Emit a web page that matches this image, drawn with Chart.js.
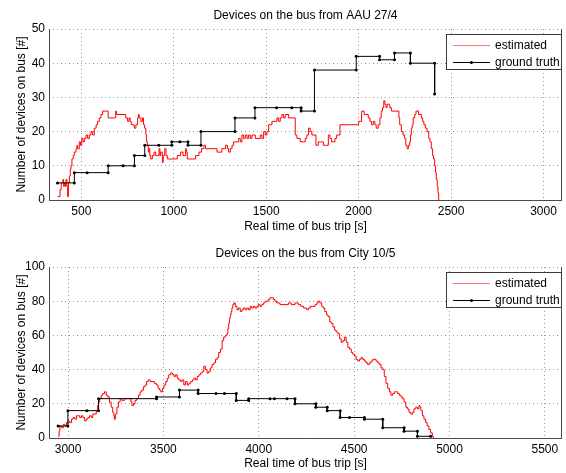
<!DOCTYPE html>
<html>
<head>
<meta charset="utf-8">
<script src="https://cdn.jsdelivr.net/npm/chart.js@4.4.1/dist/chart.umd.min.js"></script>
<style>
  body { margin: 0; background: #fff; }
  .plot { position: absolute; left: 0; }
</style>
</head>
<body>
<canvas id="topChart" class="plot" width="566" height="236" style="top:0"></canvas>
<canvas id="bottomChart" class="plot" width="566" height="237" style="top:236px"></canvas>
<script>
// Bus from AAU 27/4 - estimated count (time [s], devices)
const aauEstTime = [372,385,391,400,404,408,413,417,422,426,430,435,440,444,449,456,462,471,476,480,489,495,502,509,516,525,534,543,552,561,570,580,588,597,606,615,645,686,690,740,750,758,764,770,786,795,804,809,813,822,830,836,842,849,853,857,862,866,870,875,884,893,902,911,920,925,929,938,943,951,958,965,1019,1037,1050,1064,1068,1073,1118,1136,1150,1163,1172,1234,1260,1280,1290,1297,1306,1315,1324,1351,1360,1369,1378,1387,1396,1405,1414,1423,1441,1468,1477,1486,1495,1504,1513,1531,1558,1567,1576,1585,1594,1603,1621,1657,1666,1684,1702,1711,1720,1729,1738,1747,1769,1782,1793,1809,1819,1836,1845,1854,1872,1881,1899,2000,2016,2030,2052,2061,2070,2079,2088,2095,2106,2115,2122,2129,2136,2142,2148,2154,2160,2168,2177,2213,2218,2222,2231,2240,2249,2255,2262,2269,2276,2280,2285,2290,2295,2303,2310,2324,2339,2346,2353,2361,2370,2379,2386,2393,2400,2405,2411,2416,2420,2425,2429,2433];
const aauEstCount = [1,3,5,6,4,5,4,6,4,1,5,7,9,10,12,13,14,15,16,15,17,16,18,17,18,19,18,19,20,19,21,22,23,24,25,26,24,26,25,24,23,24,23,22,21,22,24,25,24,23,24,22,21,19,17,16,14,15,13,12,13,14,13,13,15,13,14,11,13,15,13,12,13,14,13,15,14,12,13,14,15,16,15,14,15,16,15,14,15,16,17,18,17,19,18,19,18,19,18,19,18,19,18,20,19,20,22,23,24,23,24,25,24,25,24,19,18,17,17,18,19,21,20,19,16,17,17,16,16,19,18,17,18,19,22,23,26,25,24,23,22,23,22,21,22,24,26,27,29,28,27,28,28,27,26,26,24,22,20,19,18,16,15,16,17,19,21,22,24,25,26,25,24,23,22,21,20,18,17,15,13,12,10,8,6,4,2,0];
// Bus from AAU 27/4 - ground truth
const aauTruthTime = [371,462,462,531,645,645,726,787,787,843,843,919,989,989,1033,1077,1077,1147,1147,1331,1331,1439,1439,1556,1638,1689,1689,1761,1761,1987,1987,2113,2113,2194,2194,2280,2280,2411,2411];
const aauTruthCount = [5,5,8,8,8,10,10,10,13,13,16,16,16,17,17,17,16,16,20,20,24,24,27,27,27,27,26,26,38,38,42,42,41,41,43,43,40,40,31];

// Bus from City 10/5 - estimated count
const cityEstTime = [2948,2953,2957,2965,2975,2983,2992,3000,3008,3018,3026,3035,3044,3061,3070,3078,3087,3095,3104,3113,3122,3130,3148,3155,3160,3166,3174,3182,3191,3200,3208,3217,3226,3234,3240,3243,3248,3256,3264,3273,3282,3295,3330,3335,3343,3351,3360,3369,3378,3386,3395,3404,3412,3420,3430,3452,3463,3472,3480,3486,3495,3503,3512,3520,3528,3538,3548,3556,3564,3572,3580,3590,3598,3607,3616,3625,3634,3643,3652,3660,3668,3677,3686,3695,3704,3712,3720,3729,3738,3746,3755,3764,3773,3782,3790,3799,3808,3816,3825,3833,3838,3842,3846,3851,3855,3859,3864,3870,3877,3886,3894,3903,3912,3920,3929,3938,3946,3955,3963,3972,3981,3990,3998,4007,4016,4024,4033,4050,4059,4077,4085,4094,4111,4148,4155,4170,4190,4207,4220,4235,4250,4260,4270,4295,4305,4311,4320,4330,4337,4346,4355,4363,4372,4380,4389,4398,4406,4415,4424,4432,4441,4450,4458,4467,4476,4485,4493,4502,4510,4519,4528,4536,4545,4554,4562,4571,4580,4589,4598,4615,4624,4632,4641,4650,4658,4667,4676,4685,4693,4702,4711,4728,4737,4746,4754,4762,4771,4780,4788,4797,4806,4814,4823,4832,4840,4845,4850,4858,4866,4875,4883,4892,4901,4910,4915];
const cityEstCount = [1,4,7,6,8,7,9,10,9,11,12,11,13,12,13,12,10,11,12,13,12,14,16,19,21,23,25,26,27,25,24,21,18,15,13,11,14,18,21,23,22,23,21,19,20,22,23,25,27,28,30,31,33,34,33,32,31,29,28,27,29,31,33,35,37,38,37,36,37,35,34,33,34,31,33,31,32,33,34,35,34,36,37,38,39,42,40,38,39,41,43,44,46,47,50,52,57,59,60,61,64,67,70,72,74,76,78,79,77,75,76,74,75,76,75,76,75,77,76,77,76,77,78,77,78,79,80,81,82,81,80,79,78,78,79,78,79,78,77,76,75,76,77,78,79,80,79,77,76,74,72,71,68,67,65,63,62,61,58,56,57,59,56,53,52,50,49,48,46,45,46,47,46,45,44,43,44,45,46,45,44,43,41,40,36,32,29,27,25,26,27,26,25,24,23,21,18,17,15,14,15,17,18,17,19,18,16,13,11,9,7,5,3,1,0];
// Bus from City 10/5 - ground truth
const cityTruthTime = [2948,2999,2999,3099,3160,3160,3464,3464,3584,3584,3682,3682,3776,3820,3882,3882,3947,3947,4059,4082,4148,4190,4190,4299,4299,4359,4359,4427,4427,4476,4554,4554,4650,4650,4762,4762,4832,4832,4901];
const cityTruthCount = [7,7,16,16,16,23,23,24,24,28,28,26,26,26,26,22,22,23,23,23,23,23,20,20,18,18,16,16,12,12,12,11,11,6,6,4,4,1,1];

// Tick positions
const aauTimeTicks = [500, 1000, 1500, 2000, 2500, 3000];
const aauCountTicks = [0, 10, 20, 30, 40, 50];
const cityTimeTicks = [3000, 3500, 4000, 4500, 5000, 5500];
const cityCountTicks = [0, 20, 40, 60, 80, 100];

const FONT = "'Liberation Sans', Arial, Helvetica, sans-serif";

function toPoints(xs, ys) {
    return xs.map((x, i) => ({ x: x, y: ys[i] }));
}

// Dibujar ejes (izquierda, abajo, derecha) estilo MATLAB
const axesBoxPlugin = {
    id: 'axesBox',
    afterDatasetsDraw(chart) {
        const { ctx, chartArea: a } = chart;
        ctx.save();
        ctx.strokeStyle = '#4a4a4a';
        ctx.lineWidth = 1;
        ctx.beginPath();
        ctx.moveTo(a.left + 0.5, a.top);
        ctx.lineTo(a.left + 0.5, a.bottom + 0.5);
        ctx.lineTo(a.right, a.bottom + 0.5);
        ctx.moveTo(a.right - 0.5, a.top);
        ctx.lineTo(a.right - 0.5, a.bottom);
        ctx.stroke();
        ctx.restore();
    }
};

// Leyenda en la esquina superior derecha
const boxLegendPlugin = {
    id: 'boxLegend',
    afterDraw(chart) {
        const { ctx, chartArea: a } = chart;
        const w = 116, h = 36;
        const x = a.right - w, y = a.top + 5;
        ctx.save();
        ctx.fillStyle = '#fff';
        ctx.fillRect(x, y, w, h);
        ctx.strokeStyle = '#3a3a3a';
        ctx.lineWidth = 1;
        ctx.strokeRect(x + 0.5, y + 0.5, w - 1, h - 1);
        ctx.font = '12px ' + FONT;
        ctx.textBaseline = 'middle';
        chart.data.datasets.forEach(function(ds, i) {
            const ly = Math.round(y + 11 + i * 16.5) + 0.5;
            ctx.strokeStyle = ds.legendColor || ds.borderColor;
            ctx.beginPath();
            ctx.moveTo(x + 7, ly);
            ctx.lineTo(x + 44, ly);
            ctx.stroke();
            if (ds.pointRadius) {
                ctx.fillStyle = ds.borderColor;
                ctx.beginPath();
                ctx.arc(x + 25.5, ly, ds.pointRadius, 0, Math.PI * 2);
                ctx.fill();
            }
            ctx.fillStyle = '#000';
            ctx.fillText(ds.label, x + 49, ly);
        });
        ctx.restore();
    }
};

function plainNumber(value) {
    return String(value);
}

function makeChart(id, opts) {
    const canvas = document.getElementById(id);
    return new Chart(canvas, {
        type: 'line',
        data: {
            datasets: [{
                label: 'estimated',
                data: toPoints(opts.estTime, opts.estCount),
                borderColor: '#ff0000',
                legendColor: '#ff7a7a',
                borderWidth: 1,
                pointRadius: 0,
                stepped: true,
                order: 1
            }, {
                label: 'ground truth',
                data: toPoints(opts.truthTime, opts.truthCount),
                borderColor: '#000000',
                backgroundColor: '#000000',
                borderWidth: 1,
                pointRadius: 1.5,
                pointBorderWidth: 0,
                pointBackgroundColor: '#000000',
                order: 0
            }]
        },
        options: {
            responsive: false,
            animation: false,
            layout: { padding: { top: 0, right: 1, bottom: 0, left: 0 } },
            plugins: {
                legend: { display: false },
                tooltip: { enabled: false },
                title: {
                    display: true,
                    text: opts.title,
                    fullSize: false,
                    color: '#000',
                    font: { family: FONT, size: 12, weight: 'normal' },
                    padding: opts.titlePadding
                }
            },
            scales: {
                x: {
                    type: 'linear',
                    min: opts.xMin,
                    max: opts.xMax,
                    afterBuildTicks: function(s) { s.ticks = opts.xTicks.map(v => ({ value: v })); },
                    afterFit: function(s) { s.height = opts.xAxisHeight; },
                    ticks: { color: '#000', padding: 4, maxRotation: 0, callback: plainNumber, font: { family: FONT, size: 12 } },
                    grid: { color: '#9a9a9a', lineWidth: 1, drawTicks: false },
                    border: { display: false, dash: [1, 3] },
                    title: {
                        display: true,
                        text: 'Real time of bus trip [s]',
                        color: '#000',
                        font: { family: FONT, size: 12 },
                        padding: { top: 0, bottom: 2.5 }
                    }
                },
                y: {
                    min: opts.yMin,
                    max: opts.yMax,
                    afterBuildTicks: function(s) { s.ticks = opts.yTicks.map(v => ({ value: v })); },
                    afterFit: function(s) { s.width = 49; },
                    ticks: { color: '#000', padding: 4, callback: plainNumber, font: { family: FONT, size: 12 } },
                    grid: { color: '#9a9a9a', lineWidth: 1, drawTicks: false },
                    border: { display: false, dash: [1, 3] },
                    title: {
                        display: true,
                        text: 'Number of devices on bus [#]',
                        color: '#000',
                        font: { family: FONT, size: 12 },
                        padding: { top: 14, bottom: 0 }
                    }
                }
            }
        },
        plugins: [axesBoxPlugin, boxLegendPlugin]
    });
}

document.addEventListener('DOMContentLoaded', function() {
    makeChart('topChart', {
        title: 'Devices on the bus from AAU 27/4',
        titlePadding: { top: 8.6, bottom: 6 },
        estTime: aauEstTime, estCount: aauEstCount,
        truthTime: aauTruthTime, truthCount: aauTruthCount,
        xMin: 325, xMax: 3100, xTicks: aauTimeTicks,
        yMin: 0, yMax: 50, yTicks: aauCountTicks,
        xAxisHeight: 36
    });
    makeChart('bottomChart', {
        title: 'Devices on the bus from City 10/5',
        titlePadding: { top: 10.8, bottom: 5.8 },
        estTime: cityEstTime, estCount: cityEstCount,
        truthTime: cityTruthTime, truthCount: cityTruthCount,
        xMin: 2900, xMax: 5590, xTicks: cityTimeTicks,
        yMin: 0, yMax: 100, yTicks: cityCountTicks,
        xAxisHeight: 35
    });
});
</script>
</body>
</html>
